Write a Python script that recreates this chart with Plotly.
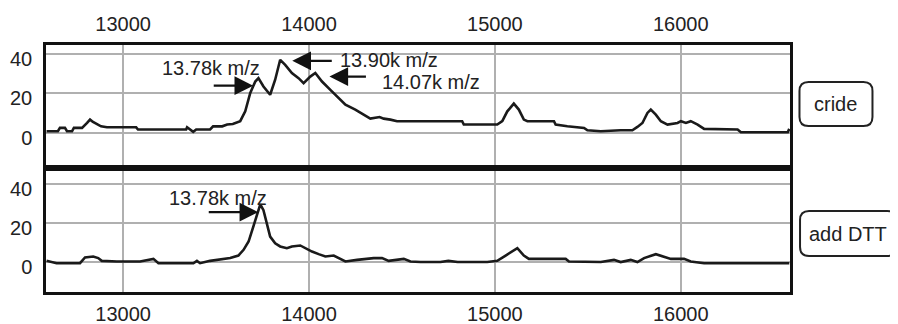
import plotly.graph_objects as go

# ---------------- data ----------------
mz_crude = [12588, 12649, 12660, 12687, 12698, 12725, 12735, 12779, 12806, 12822,
            12838, 12859, 12881, 12913, 13070, 13080, 13339, 13344, 13360, 13377,
            13393, 13468, 13484, 13533, 13560, 13590, 13630, 13657, 13684, 13711,
            13728, 13755, 13791, 13818, 13845, 13872, 13908, 13944, 13971, 14007,
            14034, 14070, 14115, 14159, 14196, 14249, 14294, 14330, 14380, 14402,
            14438, 14474, 14654, 14824, 14833, 15013, 15040, 15067, 15102, 15129,
            15156, 15175, 15318, 15327, 15390, 15480, 15498, 15570, 15677, 15740,
            15767, 15794, 15821, 15839, 15866, 15893, 15929, 15983, 16001, 16028,
            16054, 16091, 16126, 16306, 16324, 16576, 16584]
int_crude = [0.8, 0.8, 2.5, 2.5, 0.8, 0.8, 2.5, 2.5, 5.0, 6.7,
             5.5, 4.2, 3.3, 2.8, 2.8, 1.7, 1.7, 2.8, 1.7, 0.5,
             1.7, 1.7, 3.3, 3.3, 4.2, 4.5, 5.9, 10.9, 20.2, 26.0,
             27.7, 23.5, 19.3, 26.9, 37.0, 34.4, 30.3, 27.7, 25.2, 28.5,
             30.3, 26.0, 21.8, 17.6, 14.3, 11.8, 9.2, 7.2, 8.0, 7.2,
             6.7, 5.9, 5.9, 5.9, 4.2, 4.2, 5.9, 10.9, 14.8, 11.8,
             6.7, 5.9, 5.9, 4.2, 3.3, 2.5, 1.3, 0.8, 1.3, 1.3,
             3.0, 5.0, 10.1, 11.8, 9.2, 5.9, 4.2, 5.0, 5.9, 5.0,
             5.9, 4.2, 2.0, 1.7, 0.3, 0.3, 2.0]

mz_dtt = [12588, 12642, 12768, 12795, 12839, 12866, 12885, 12966, 13091, 13163,
          13190, 13378, 13397, 13414, 13468, 13558, 13576, 13620, 13648, 13675,
          13702, 13720, 13738, 13755, 13774, 13791, 13818, 13845, 13881, 13908,
          13953, 13980, 14016, 14052, 14088, 14133, 14159, 14196, 14259, 14348,
          14393, 14429, 14510, 14546, 14600, 14707, 14750, 14800, 14959, 15013,
          15058, 15121, 15156, 15183, 15381, 15399, 15570, 15641, 15677, 15731,
          15767, 15803, 15866, 15911, 15947, 16018, 16054, 16126, 16584]
int_dtt = [0.8, -0.4, -0.4, 2.5, 3.0, 2.2, 0.8, 0.5, 0.5, 1.8,
           -0.4, -0.4, 0.8, -0.4, 0.8, 1.8, 2.2, 3.5, 6.4, 10.6,
           18.2, 24.0, 29.4, 26.5, 19.8, 13.1, 9.7, 8.1, 7.2, 8.1,
           8.6, 7.2, 5.5, 4.2, 3.0, 3.5, 2.2, 0.5, 1.3, 2.2,
           2.2, 0.8, 1.8, 0.5, 0.2, 0.2, 0.8, 0.2, 0.2, 0.8,
           3.5, 7.2, 3.5, 1.8, 1.8, 0.5, 0.2, 1.3, 0.2, 1.3,
           0.2, 2.2, 4.2, 3.0, 1.8, 1.8, 0.5, -0.4, -0.4]

x_ticks = [13000, 14000, 15000, 16000]
x_tick_labels = ["13000", "14000", "15000", "16000"]
y_ticks = [0, 20, 40]
y_tick_labels = ["0", "20", "40"]
x_range = [12585, 16588]
y_range_top = [-16.5, 44.5]
y_range_bottom = [-15, 46.2]

panel_labels = ["cride", "add DTT"]

# peak labels: (text, arrow tip m/z, arrow tip intensity, tail dx px, text m/z, text intensity)
peaks_crude = [
    ("13.78k m/z", 13700, 23.9, -41, 13471, 32.9),
    ("13.90k m/z", 13910, 36.5, 41, 14430, 37.0),
    ("14.07k m/z", 14110, 28.5, 38, 14654, 26.0),
]
peaks_dtt = [
    ("13.78k m/z", 13727, 25.5, -51, 13509, 32.7),
]

FONT = "Liberation Sans, Arial, sans-serif"
LINE = "#1a1a1a"
GRID = "#b0b0b0"

fig = go.Figure()
fig.add_trace(go.Scatter(x=mz_crude, y=int_crude, mode="lines",
                         line=dict(color=LINE, width=2.6), xaxis="x2", yaxis="y2",
                         showlegend=False))
fig.add_trace(go.Scatter(x=mz_dtt, y=int_dtt, mode="lines",
                         line=dict(color=LINE, width=2.6), xaxis="x", yaxis="y",
                         showlegend=False))

axis_common = dict(showline=True, mirror=True, linecolor="#111", linewidth=2.5,
                   showgrid=True, gridcolor=GRID, gridwidth=2, zeroline=False,
                   automargin=False, layer="above traces",
                   ticks="outside", tickcolor="rgba(0,0,0,0)",
                   tickfont=dict(family=FONT, size=20, color="#222"))

# the page body adds an 8px offset; the figure is sized to compensate
fig.update_layout(
    template="none",
    width=890, height=316,
    margin=dict(l=38, r=108, t=37, b=32, pad=0),
    paper_bgcolor="white", plot_bgcolor="white",
    font=dict(family=FONT, size=20, color="#222"),
    xaxis=dict(domain=[0, 1], range=x_range, anchor="y", side="bottom",
               tickvals=x_ticks, ticktext=x_tick_labels, ticklen=2, **axis_common),
    xaxis2=dict(domain=[0, 1], range=x_range, anchor="y2", side="top",
                tickvals=x_ticks, ticktext=x_tick_labels, ticklen=3, **axis_common),
    yaxis=dict(domain=[0, 0.4885], range=y_range_bottom, anchor="x",
               tickvals=y_ticks, ticktext=y_tick_labels, ticklen=7,
               ticklabelshift=5, **axis_common),
    yaxis2=dict(domain=[0.5125, 1], range=y_range_top, anchor="x2",
                tickvals=y_ticks, ticktext=y_tick_labels, ticklen=7,
                ticklabelshift=5, **axis_common),
)

annotations = []
for peaks, xr, yr in [(peaks_crude, "x2", "y2"), (peaks_dtt, "x", "y")]:
    for text, tx, ty, dx, lx, ly in peaks:
        annotations.append(dict(x=tx, y=ty, xref=xr, yref=yr, text="",
                                showarrow=True, arrowhead=2, arrowsize=1.7,
                                arrowwidth=2.2, arrowcolor="#111",
                                ax=dx, ay=0, standoff=0))
        annotations.append(dict(x=lx, y=ly, xref=xr, yref=yr, text=text,
                                showarrow=False, xanchor="center", yanchor="middle",
                                font=dict(family=FONT, size=20, color="#222")))

# panel label boxes (rounded rectangles) anchored in paper coords, sized in px
def rounded_path(w, h, r):
    hw, hh = w / 2, h / 2
    return (f"M {-hw + r},{-hh} L {hw - r},{-hh} Q {hw},{-hh} {hw},{-hh + r} "
            f"L {hw},{hh - r} Q {hw},{hh} {hw - r},{hh} L {-hw + r},{hh} "
            f"Q {-hw},{hh} {-hw},{hh - r} L {-hw},{-hh + r} Q {-hw},{-hh} {-hw + r},{-hh} Z")

boxes = [
    (panel_labels[0], 1.0618, 0.7611, 73, 44),
    (panel_labels[1], 1.0780, 0.2368, 96, 45),
]
shapes = []
for text, cx, cy, w, h in boxes:
    shapes.append(dict(type="path", xref="paper", yref="paper",
                       xsizemode="pixel", ysizemode="pixel",
                       xanchor=cx, yanchor=cy, path=rounded_path(w, h, 9),
                       line=dict(color="#222", width=2), fillcolor="white"))
    annotations.append(dict(x=cx, y=cy, xref="paper", yref="paper", text=text,
                            showarrow=False, xanchor="center", yanchor="middle",
                            font=dict(family=FONT, size=20, color="#222")))

fig.update_layout(annotations=annotations, shapes=shapes)
fig.write_html("out.html")
